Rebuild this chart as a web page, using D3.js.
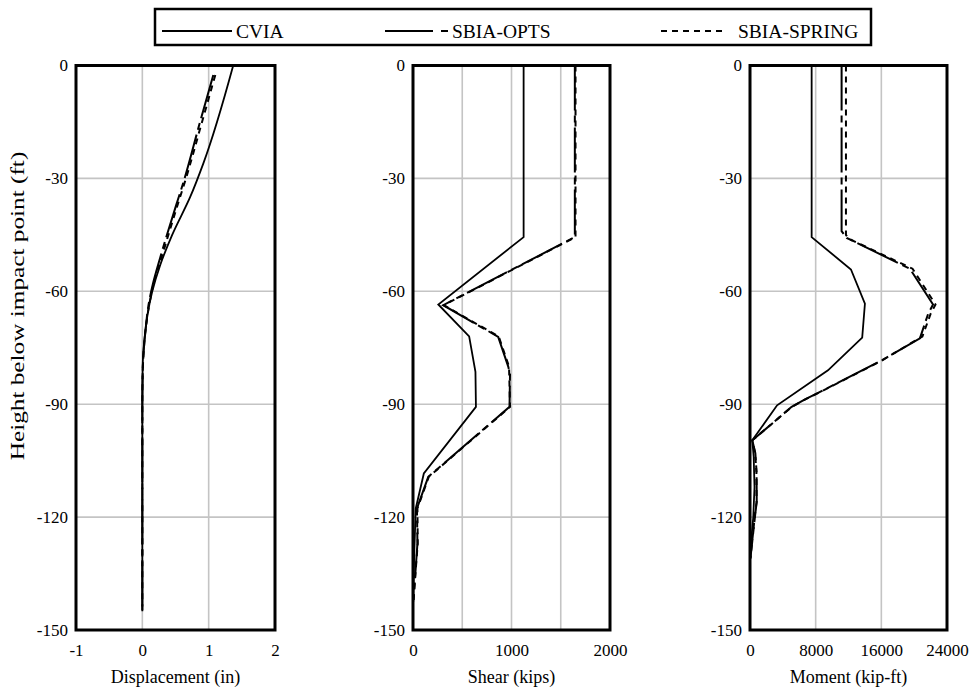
<!DOCTYPE html>
<html><head><meta charset="utf-8">
<script src="https://cdn.jsdelivr.net/npm/d3@7"></script>
<style>
body{margin:0;background:#fff}svg{display:block}
</style>
</head><body>
<script>
// ---- data (depth ft, value) ----
const seriesNames = ["CVIA", "SBIA-OPTS", "SBIA-SPRING"];
const yTicks = [0, -30, -60, -90, -120, -150];

const dispCVIA = [[0,1.37],[-26,0.92],[-35,0.72],[-45,0.45],[-53,0.27],[-60,0.15],[-65,0.09],[-70,0.05],[-75,0.02],[-80,0.005],[-90,0],[-145,0]];
const dispOPTS = [[-2.5,1.07],[-15,0.87],[-31,0.62],[-36,0.53],[-51,0.27],[-58,0.16],[-64,0.09],[-70,0.05],[-76,0.02],[-82,0.005],[-90,0],[-145,0]];
const dispSPRING = [[-2.5,1.1],[-15,0.9],[-31,0.64],[-36,0.55],[-51,0.29],[-58,0.17],[-64,0.1],[-70,0.05],[-76,0.02],[-82,0.005],[-90,0],[-145,0]];

const shearCVIA = [[0,1123],[-45.6,1123],[-63.5,257],[-72,570],[-81.4,634],[-90.7,639],[-108.4,110],[-117.7,28],[-130,12],[-142.5,3]];
const shearOPTS = [[0,1643],[-45.6,1643],[-63.7,307],[-72.1,865],[-80,967],[-82,985],[-90.7,980],[-109.3,155],[-117.7,40],[-127,45],[-142,5]];
const shearSPRING = [[0,1650],[-45.6,1650],[-63.7,312],[-72,870],[-80,975],[-90.7,985],[-109.3,160],[-117.7,45],[-127,48],[-142,5]];

const momCVIA = [[0,7510],[-45.6,7510],[-54.2,12300],[-63.3,14000],[-72.3,13670],[-81,9500],[-90.3,3300],[-99.6,280],[-104,450],[-112,550],[-120,400],[-126,150],[-131.5,0]];
const momOPTS = [[0,11160],[-44,11160],[-45.8,11770],[-54,19480],[-63.5,22300],[-66,21700],[-72.5,20700],[-78.6,15830],[-87.2,8110],[-88.7,6700],[-90.7,5070],[-99.6,280],[-103,650],[-108,800],[-116,820],[-119,650],[-131,50]];
const momSPRING = [[0,11690],[-45,11690],[-46,12000],[-54,19800],[-63.5,22600],[-66,22000],[-72,21000],[-78.6,15900],[-87.2,8150],[-88.7,6750],[-90.7,5100],[-99.6,280],[-103,620],[-108,780],[-116,800],[-119,620],[-131,50]];

const dispTicks = [-1, 0, 1, 2];
const shearTicks = [0, 1000, 2000];
const shearGrid = [500, 1000, 1500];
const momTicks = [0, 8000, 16000, 24000];
const momGrid = [8000, 16000];

const panels = [
  {x0:76, x1:275, domain:[-1,2], ticks:dispTicks, grid:[0,1], title:"Displacement (in)", data:[dispCVIA, dispOPTS, dispSPRING], curve:d3.curveMonotoneY},
  {x0:413, x1:610, domain:[0,2000], ticks:shearTicks, grid:shearGrid, title:"Shear (kips)", data:[shearCVIA, shearOPTS, shearSPRING], curve:d3.curveLinear},
  {x0:750, x1:947, domain:[0,24000], ticks:momTicks, grid:momGrid, title:"Moment (kip-ft)", data:[momCVIA, momOPTS, momSPRING], curve:d3.curveLinear}
];

const dashes = [null, "45,5,7,5", "6,5"];
const FONT = "Liberation Serif";

const W = 978, H = 693;
const svg = d3.select("body").append("svg").attr("width", W).attr("height", H);

const plotTop = 65.5, plotBottom = 630;
const y = d3.scaleLinear().domain([-150, 0]).range([plotBottom, plotTop]);

panels.forEach(p => {
  const x = d3.scaleLinear().domain(p.domain).range([p.x0, p.x1]);
  const g = svg.append("g");
  g.selectAll(".hg").data(yTicks.filter(t => t !== 0 && t !== -150)).join("line")
    .attr("x1", p.x0).attr("x2", p.x1).attr("y1", d => y(d)).attr("y2", d => y(d))
    .attr("stroke", "#c4c4c4").attr("stroke-width", 1.6);
  g.selectAll(".vg").data(p.grid).join("line")
    .attr("x1", d => x(d)).attr("x2", d => x(d)).attr("y1", plotTop).attr("y2", plotBottom)
    .attr("stroke", "#c4c4c4").attr("stroke-width", 1.6);
  const ya = d3.axisLeft(y).tickValues(yTicks).tickSize(0).tickPadding(8).tickFormat(d => String(d));
  const yg = g.append("g").attr("transform", `translate(${p.x0},0)`).call(ya);
  yg.select(".domain").remove();
  yg.selectAll("text").style("font-family", FONT).style("font-size", "17px").attr("fill", "#000");
  const xa = d3.axisBottom(x).tickValues(p.ticks).tickSize(0).tickPadding(14).tickFormat(d => String(d));
  const xg = g.append("g").attr("transform", `translate(0,${plotBottom})`).call(xa);
  xg.select(".domain").remove();
  xg.selectAll("text").style("font-family", FONT).style("font-size", "17px").attr("fill", "#000");
  g.append("text").attr("x", (p.x0 + p.x1) / 2).attr("y", 683).attr("text-anchor", "middle")
    .style("font-family", FONT).style("font-size", "18px").text(p.title);
  const line = d3.line().x(d => x(d[1])).y(d => y(d[0])).curve(p.curve);
  p.data.forEach((s, i) => {
    g.append("path").attr("d", line(s)).attr("fill", "none").attr("stroke", "#000")
      .attr("stroke-width", i === 0 ? 1.8 : 2).attr("stroke-dasharray", dashes[i]);
  });
  g.append("rect").attr("x", p.x0).attr("y", plotTop).attr("width", p.x1 - p.x0).attr("height", plotBottom - plotTop)
    .attr("fill", "none").attr("stroke", "#000").attr("stroke-width", 3);
});

svg.append("text").attr("transform", `translate(24,306) rotate(-90) scale(1.33,1)`)
  .attr("text-anchor", "middle").style("font-family", FONT).style("font-size", "19px").text("Height below impact point (ft)");

const lg = svg.append("g");
lg.append("rect").attr("x", 155).attr("y", 9).attr("width", 716).attr("height", 36)
  .attr("fill", "#fff").attr("stroke", "#000").attr("stroke-width", 2.5);
const legItems = [
  {x1:162, x2:232, tx:236},
  {x1:385, x2:448, tx:452},
  {x1:661, x2:724, tx:738}
];
legItems.forEach((it, i) => {
  lg.append("line").attr("x1", it.x1).attr("x2", it.x2).attr("y1", 31).attr("y2", 31)
    .attr("stroke", "#000").attr("stroke-width", 2)
    .attr("stroke-dasharray", i === 1 ? "48,8,7,8" : dashes[i]);
  lg.append("text").attr("x", it.tx).attr("y", 37.5).style("font-family", FONT).style("font-size", "19.5px").text(seriesNames[i]);
});
</script>
</body></html>
